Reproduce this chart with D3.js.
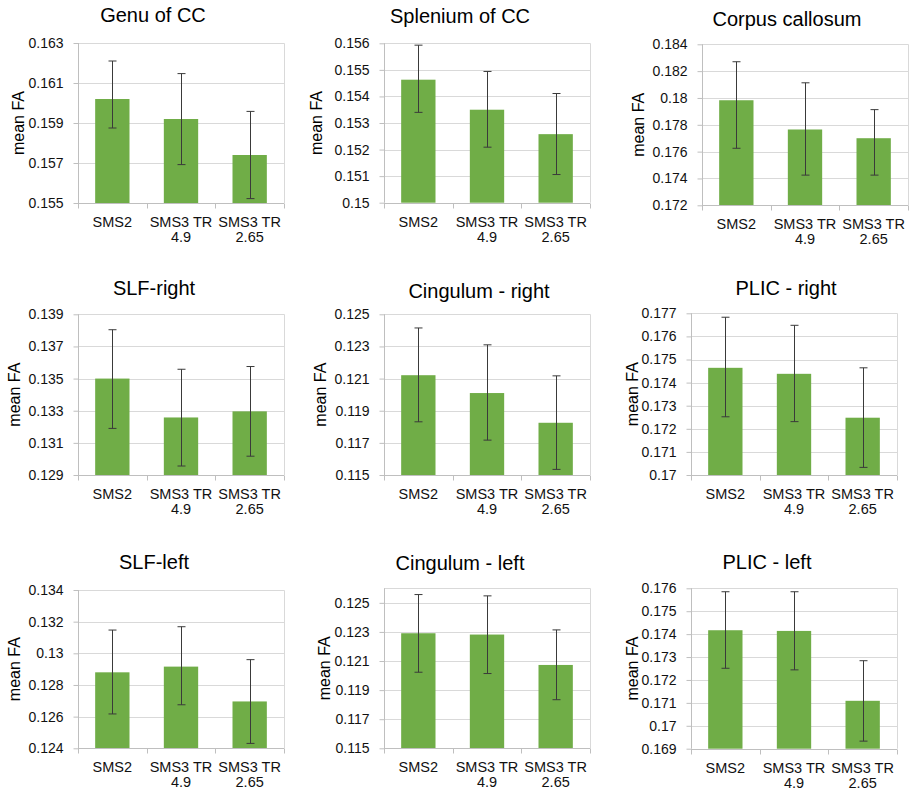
<!DOCTYPE html>
<html>
<head>
<meta charset="utf-8">
<script src="https://cdn.jsdelivr.net/npm/d3@7"></script>
<style>
  body { margin: 0; background: #fff; }
  svg { display: block; font-family: "Liberation Sans", Arial, sans-serif; }
</style>
</head>
<body>
<div id="chart"></div>
<script>
const width = 909;
const height = 794;

// ---- data ----
const titles = ["Genu of CC", "Splenium of CC", "Corpus callosum",
                "SLF-right", "Cingulum - right", "PLIC - right",
                "SLF-left", "Cingulum - left", "PLIC - left"];

const categories = [["SMS2"], ["SMS3 TR", "4.9"], ["SMS3 TR", "2.65"]];

const meanFA = [
  [0.1602, 0.1592, 0.1574],
  [0.15463, 0.1535, 0.15258],
  [0.17983, 0.17765, 0.1770],
  [0.1350, 0.13258, 0.13296],
  [0.12121, 0.1201, 0.11825],
  [0.17464, 0.17438, 0.17248],
  [0.1288, 0.12916, 0.12696],
  [0.12291, 0.12282, 0.12073],
  [0.17417, 0.17414, 0.17109]
];

const errHigh = [
  [0.1621, 0.16147, 0.15958],
  [0.15593, 0.15494, 0.15411],
  [0.1827, 0.18113, 0.17913],
  [0.13804, 0.13558, 0.13575],
  [0.12415, 0.1231, 0.12117],
  [0.17683, 0.17648, 0.17464],
  [0.13147, 0.13168, 0.1296],
  [0.12557, 0.12548, 0.12314],
  [0.17585, 0.17585, 0.17284]
];

const errLow = [
  [0.15875, 0.15692, 0.15522],
  [0.1534, 0.15209, 0.15106],
  [0.17625, 0.17425, 0.17425],
  [0.1319, 0.12956, 0.13017],
  [0.11831, 0.11717, 0.11535],
  [0.17252, 0.17231, 0.17033],
  [0.12617, 0.12675, 0.12431],
  [0.12023, 0.12014, 0.11834],
  [0.17251, 0.17244, 0.16933]
];

const yDomains = [
  [0.155, 0.163], [0.150, 0.156], [0.172, 0.184],
  [0.129, 0.139], [0.115, 0.125], [0.170, 0.177],
  [0.124, 0.134], [0.115, 0.126], [0.169, 0.176]
];

const yTicks = [
  ["0.155", "0.157", "0.159", "0.161", "0.163"],
  ["0.15", "0.151", "0.152", "0.153", "0.154", "0.155", "0.156"],
  ["0.172", "0.174", "0.176", "0.178", "0.18", "0.182", "0.184"],
  ["0.129", "0.131", "0.133", "0.135", "0.137", "0.139"],
  ["0.115", "0.117", "0.119", "0.121", "0.123", "0.125"],
  ["0.17", "0.171", "0.172", "0.173", "0.174", "0.175", "0.176", "0.177"],
  ["0.124", "0.126", "0.128", "0.13", "0.132", "0.134"],
  ["0.115", "0.117", "0.119", "0.121", "0.123", "0.125"],
  ["0.169", "0.17", "0.171", "0.172", "0.173", "0.174", "0.175", "0.176"]
];

const yLabel = "mean FA";

// ---- layout of each small chart (plot area box, title / label offsets) ----
const panels = [
  {x: 78,  y: 43,    w: 206, h: 160,   tdx: -28, tdy: -21, ldx: -60},
  {x: 384, y: 43.3,  w: 206, h: 159.4, tdx: -27, tdy: -20, ldx: -68},
  {x: 702, y: 44.3,  w: 206, h: 161,   tdx: -18, tdy: -18, ldx: -64},
  {x: 78,  y: 314.3, w: 206, h: 160.7, tdx: -27, tdy: -19, ldx: -64},
  {x: 384, y: 314.3, w: 206, h: 160.7, tdx: -8,  tdy: -16, ldx: -64},
  {x: 691, y: 313.3, w: 206, h: 161.7, tdx: -8,  tdy: -18, ldx: -59},
  {x: 78,  y: 590,   w: 206, h: 158.3, tdx: -27, tdy: -21, ldx: -64},
  {x: 384, y: 588.3, w: 206, h: 160,   tdx: -27, tdy: -18, ldx: -60},
  {x: 691, y: 588.3, w: 206, h: 160.4, tdx: -27, tdy: -19, ldx: -59}
];

const barColor = "#70ad47";
const gridColor = "#d9d9d9";
const axisColor = "#bfbfbf";

var svg = d3.select("#chart")
  .append("svg")
  .attr("width", width)
  .attr("height", height);

panels.forEach(function(p, i) {

  var g = svg.append("g");

  var yScale = d3.scaleLinear()
    .domain(yDomains[i])
    .range([p.y + p.h, p.y]);

  var xScale = d3.scaleBand()
    .domain(d3.range(categories.length))
    .range([p.x, p.x + p.w])
    .paddingInner(0.5)
    .paddingOuter(0.25);

  var edgeScale = d3.scaleLinear()
    .domain([0, categories.length])
    .range([p.x, p.x + p.w]);

  var tickVals = yTicks[i].map(Number);

  // gridlines
  g.selectAll("line.grid")
    .data(tickVals)
    .enter().append("line")
    .attr("x1", p.x)
    .attr("x2", p.x + p.w)
    .attr("y1", d => Math.round(yScale(d)) + 0.5)
    .attr("y2", d => Math.round(yScale(d)) + 0.5)
    .attr("stroke", gridColor);

  // plot area border (top + right)
  g.append("path")
    .attr("d", "M" + p.x + "," + (Math.round(p.y) + 0.5) +
               "H" + (Math.round(p.x + p.w) + 0.5) +
               "V" + (p.y + p.h))
    .attr("fill", "none")
    .attr("stroke", gridColor);

  // bars
  g.selectAll("rect.bar")
    .data(meanFA[i])
    .enter().append("rect")
    .attr("x", (d, j) => xScale(j))
    .attr("width", xScale.bandwidth())
    .attr("y", d => yScale(d))
    .attr("height", d => yScale(yDomains[i][0]) - yScale(d))
    .attr("fill", barColor);

  // error bars
  var capW = 4;
  meanFA[i].forEach(function(v, j) {
    var cx = Math.round(xScale(j) + xScale.bandwidth() / 2) + 0.5;
    var yHi = yScale(errHigh[i][j]);
    var yLo = yScale(errLow[i][j]);
    g.append("path")
      .attr("d", "M" + cx + "," + yHi + "V" + yLo +
                 "M" + (cx - capW) + "," + yHi + "H" + (cx + capW) +
                 "M" + (cx - capW) + "," + yLo + "H" + (cx + capW))
      .attr("fill", "none")
      .attr("stroke", "#3a3a3a")
      .attr("stroke-width", 1);
  });

  // y axis
  var yAxis = d3.axisLeft(yScale)
    .tickValues(tickVals)
    .tickFormat((d, k) => yTicks[i][k])
    .tickSize(5)
    .tickPadding(10);

  var ya = g.append("g")
    .attr("transform", "translate(" + (Math.round(p.x) + 0.5) + ",0)")
    .call(yAxis);
  ya.select(".domain").attr("stroke", axisColor)
    .attr("d", "M0," + p.y + "V" + (p.y + p.h));
  ya.selectAll(".tick line").attr("stroke", axisColor);
  ya.selectAll(".tick text")
    .attr("fill", "#111")
    .style("font-size", "14px")
    .style("font-family", "'Liberation Sans', Arial, sans-serif");

  // x axis: baseline + tick marks between categories
  var yb = Math.round(p.y + p.h) + 0.5;
  g.append("line")
    .attr("x1", p.x).attr("x2", p.x + p.w)
    .attr("y1", yb).attr("y2", yb)
    .attr("stroke", axisColor);
  g.selectAll("line.xtick")
    .data(d3.range(categories.length + 1))
    .enter().append("line")
    .attr("x1", d => Math.round(edgeScale(d)) + 0.5)
    .attr("x2", d => Math.round(edgeScale(d)) + 0.5)
    .attr("y1", yb)
    .attr("y2", yb + 5)
    .attr("stroke", axisColor);

  // category labels
  var labels = g.selectAll("text.cat")
    .data(categories)
    .enter().append("text")
    .attr("text-anchor", "middle")
    .attr("fill", "#111")
    .style("font-size", "14.5px");
  labels.each(function(lines, j) {
    var t = d3.select(this);
    lines.forEach(function(s, k) {
      t.append("tspan")
        .attr("x", xScale(j) + xScale.bandwidth() / 2)
        .attr("y", p.y + p.h + 24 + k * 15)
        .text(s);
    });
  });

  // title
  g.append("text")
    .attr("x", p.x + p.w / 2 + p.tdx)
    .attr("y", p.y + p.tdy)
    .attr("text-anchor", "middle")
    .attr("fill", "#000")
    .style("font-size", "20px")
    .text(titles[i]);

  // y label
  var lx = p.x + p.ldx;
  var ly = p.y + p.h / 2;
  g.append("text")
    .attr("transform", "translate(" + lx + "," + ly + ") rotate(-90)")
    .attr("text-anchor", "middle")
    .attr("dy", "0.35em")
    .attr("fill", "#000")
    .style("font-size", "16px")
    .text(yLabel);
});
</script>
</body>
</html>
